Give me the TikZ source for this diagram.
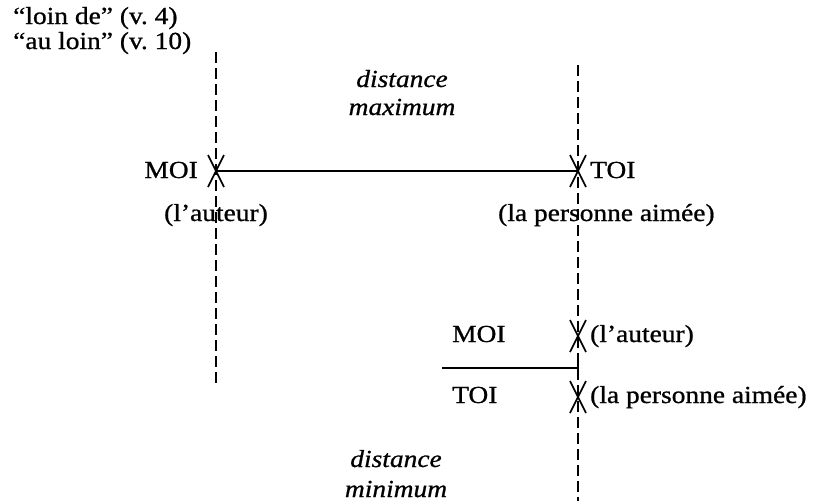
\documentclass[tikz,border=0pt]{standalone}
\usepackage{fontspec}
\setmainfont{Liberation Serif}[FakeStretch=1.12,FakeBold=0.8]
\usetikzlibrary{calc}
\begin{document}
\begin{tikzpicture}[x=1pt,y=-1pt,
  lbl/.style={inner sep=0pt,font=\fontsize{24.5}{26}\selectfont},
  ital/.style={lbl,font=\fontsize{24.5}{26}\selectfont\itshape},
  dline/.style={line width=1.6pt,dash pattern=on 11pt off 5pt},
  sline/.style={line width=1.8pt},
  vmark/.style={line width=1.6pt},
  pics/xmark/.style={code={
    \draw[vmark] (-8,-16) -- (0,0) -- (8,-16);
    \draw[vmark] (-8,16) -- (0,0) -- (8,16);
  }}]
\useasboundingbox (0,0) rectangle (817,501);
% reference texts
\node[lbl,anchor=base west] (v4) at (13,24) {“loin de” (v.~4)};
\node[lbl,anchor=base west] (v10) at (13,49) {“au loin” (v.~10)};
% coordinates
\coordinate (Ltop) at (216,52);
\coordinate (Lbot) at (216,385);
\coordinate (Rtop) at (578,65);
\coordinate (Rbot) at (578,501);
\coordinate (A) at (216,171);
\coordinate (B) at (578,171);
\coordinate (C) at (578,336);
\coordinate (D) at (578,397);
\coordinate (E0) at (442,368);
\coordinate (E1) at (578,368);
\coordinate (T0) at (578,363);
\coordinate (T1) at (578,373);
% dashed verticals
\draw[dline] (Ltop) -- (Lbot);
\draw[dline] (Rtop) -- (Rbot);
% distance maximum
\draw[sline] (A) -- (B);
\pic at (A) {xmark};
\pic at (B) {xmark};
\node[lbl,anchor=base east] (moi1) at (198,178) {MOI};
\node[lbl,anchor=base west] (toi1) at (590,178) {TOI};
\node[lbl,anchor=base] (aut1) at (216,221) {(l’auteur)};
\node[lbl,anchor=base west] (pers1) at (498,221) {(la personne aimée)};
\node[ital,anchor=base] (dmax1) at (402,87) {distance};
\node[ital,anchor=base] (dmax2) at (402,115) {maximum};
% distance minimum
\draw[sline] (E0) -- (E1);
\draw[sline] (T0) -- (T1);
\pic at (C) {xmark};
\pic at (D) {xmark};
\node[lbl,anchor=base west] (moi2) at (452,342) {MOI};
\node[lbl,anchor=base west] (aut2) at (590,342) {(l’auteur)};
\node[lbl,anchor=base west] (toi2) at (452,403) {TOI};
\node[lbl,anchor=base west] (pers2) at (590,403) {(la personne aimée)};
\node[ital,anchor=base] (dmin1) at (396,467) {distance};
\node[ital,anchor=base] (dmin2) at (396,497) {minimum};
\end{tikzpicture}
\end{document}
